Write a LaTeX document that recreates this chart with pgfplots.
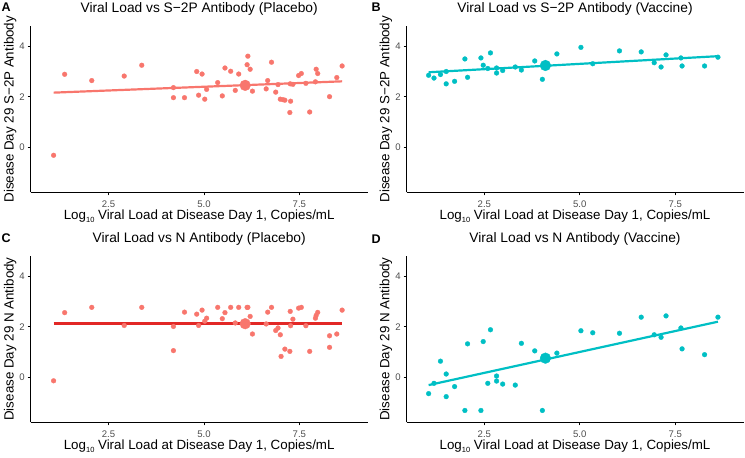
\documentclass[border=0pt]{standalone}
\usepackage{fontspec}
\setmainfont{Liberation Sans}
\usepackage{pgfplots}
\pgfplotsset{compat=1.18}
\definecolor{placebo}{RGB}{248,118,109}
\definecolor{vaccine}{RGB}{0,191,196}
\definecolor{redline}{RGB}{226,40,38}
\definecolor{tickgray}{RGB}{77,77,77}
\newcommand{\xlab}{Log\raisebox{-0.35ex}{\fontsize{7.5}{7.5}\selectfont 10} Viral Load at Disease Day 1, Copies/mL}
\pgfplotsset{
  dots/.style={only marks, mark=*, mark size=2.4bp, color=#1, mark options={solid, draw=#1, fill=#1, line width=0.3bp}},
  bigdot/.style={only marks, mark=*, mark size=5.4bp, color=#1, mark options={solid, draw=#1, fill=#1, line width=0.3bp}},
  fit/.style={no marks, color=#1, line width=2.2bp},
}
\pgfplotsset{panel/.style={
  scale only axis, width=337bp, height=166.5bp,
  xmin=0.46, xmax=9.29, ymin=-1.8, ymax=4.82,
  axis x line*=bottom, axis y line*=left,
  axis line style={-, line width=0.9bp, black},
  xtick={2.5,5,7.5}, xticklabels={2.5,5.0,7.5},
  ytick={0,2,4},
  tick align=outside, major tick length=3bp,
  tick style={black, line width=0.9bp},
  /pgf/number format/assume math mode=true,
  ticklabel style={font=\fontsize{9.6}{9.6}\selectfont, text=tickgray},
  xticklabel style={anchor=base, inner sep=0pt, yshift=-12.5bp},
  yticklabel style={anchor=east, inner sep=0pt, xshift=-2.7bp},
  every axis title/.style={at={(axis description cs:0.5,1)}, anchor=base, yshift=13.5bp, font=\fontsize{13.8}{14}\selectfont},
  every axis x label/.style={at={(axis description cs:0.5,-0.165)}, anchor=base, font=\fontsize{13.4}{14}\selectfont},
  every axis y label/.style={at={(axis description cs:-0.0505,0.5)}, anchor=base, rotate=90, font=\fontsize{13.4}{14}\selectfont},
  xlabel={\xlab},
  clip=false,
}}
\begin{document}
\begin{tikzpicture}
\useasboundingbox (0,0) rectangle (745bp,458bp);
% Panel A
\begin{axis}[panel, at={(30.7bp,265.5bp)}, anchor=south west,
  title={Viral Load vs S−2P Antibody (Placebo)}, ylabel={Disease Day 29 S−2P Antibody}]
\addplot[dots=placebo] table {
x y
1.06 -0.32
1.35 2.90
2.06 2.65
2.91 2.83
3.37 3.26
4.20 2.37
4.20 1.97
4.49 1.97
4.81 3.01
4.95 2.91
4.86 2.07
5.02 1.91
5.07 2.30
5.36 2.57
5.48 2.04
5.55 3.15
5.70 3.02
5.82 2.26
5.91 2.91
6.15 3.62
6.13 3.28
6.21 3.10
6.27 2.23
6.63 2.32
6.67 2.65
6.77 3.38
6.88 2.19
6.94 2.49
7.00 1.91
7.07 1.89
7.12 1.87
7.26 2.52
7.27 1.83
7.25 1.38
7.33 2.50
7.48 2.85
7.55 2.93
7.67 2.54
7.77 1.40
7.92 2.60
7.94 3.10
7.98 2.93
8.29 2.01
8.48 2.77
8.62 3.23
};
\addplot[fit=placebo] coordinates {(1.06,2.17) (8.62,2.62)};
\addplot[bigdot=placebo] coordinates {(6.08,2.46)};
\end{axis}
% Panel B
\begin{axis}[panel, at={(406.5bp,265.5bp)}, anchor=south west,
  title={Viral Load vs S−2P Antibody (Vaccine)}, ylabel={Disease Day 29 S−2P Antibody}]
\addplot[dots=vaccine] table {
x y
1.04 2.86
1.18 2.75
1.35 2.89
1.50 3.01
1.50 2.52
1.72 2.62
1.99 3.51
2.06 2.78
2.41 3.55
2.47 3.26
2.59 3.13
2.66 3.75
2.82 3.15
2.82 2.95
2.98 3.05
3.31 3.19
3.47 3.07
3.82 3.43
4.02 2.70
4.40 3.71
5.03 3.97
5.34 3.32
6.04 3.83
6.61 3.79
6.95 3.36
7.13 3.19
7.26 3.67
7.65 3.55
7.68 3.23
8.27 3.23
8.62 3.58
};
\addplot[fit=vaccine] coordinates {(1.04,2.98) (8.62,3.62)};
\addplot[bigdot=vaccine] coordinates {(4.10,3.25)};
\end{axis}
% Panel C
\begin{axis}[panel, at={(30.7bp,35.7bp)}, anchor=south west,
  title={Viral Load vs N Antibody (Placebo)}, ylabel={Disease Day 29 N Antibody}]
\addplot[dots=placebo] table {
x y
1.06 -0.15
1.35 2.56
2.06 2.77
2.91 2.05
3.37 2.77
4.20 2.01
4.20 1.05
4.49 2.58
4.81 2.50
4.95 2.66
4.86 2.05
5.02 2.22
5.07 2.34
5.36 2.77
5.48 2.32
5.55 2.56
5.70 2.77
5.82 2.15
5.91 2.77
6.15 2.77
6.13 2.77
6.21 2.41
6.27 1.71
6.63 2.11
6.67 2.58
6.77 2.77
6.88 1.85
6.94 1.95
7.00 1.68
7.02 0.82
7.12 1.11
7.26 2.61
7.27 2.04
7.25 1.02
7.33 2.30
7.48 2.74
7.55 2.77
7.67 2.04
7.77 1.02
7.92 2.34
7.94 2.45
7.98 2.57
8.29 1.64
8.29 1.18
8.48 1.71
8.62 2.66
};
\addplot[bigdot=placebo] coordinates {(6.08,2.12)};
\addplot[fit=redline] coordinates {(1.06,2.13) (8.62,2.13)};
\end{axis}
% Panel D
\begin{axis}[panel, at={(406.5bp,35.7bp)}, anchor=south west,
  title={Viral Load vs N Antibody (Vaccine)}, ylabel={Disease Day 29 N Antibody}]
\addplot[dots=vaccine] table {
x y
1.04 -0.66
1.18 -0.25
1.35 0.63
1.50 0.12
1.50 -0.78
1.72 -0.38
1.99 -1.33
2.06 1.32
2.41 -1.33
2.47 1.41
2.59 -0.25
2.66 1.88
2.82 0.04
2.82 -0.16
2.98 -0.28
3.31 -0.32
3.47 1.34
3.82 1.04
4.02 -1.33
4.40 0.95
5.03 1.84
5.34 1.76
6.04 1.74
6.61 2.38
6.95 1.68
7.13 1.58
7.26 2.43
7.65 1.95
7.68 1.12
8.27 0.89
8.62 2.38
};
\addplot[fit=vaccine] coordinates {(1.04,-0.32) (8.62,2.20)};
\addplot[bigdot=vaccine] coordinates {(4.10,0.75)};
\end{axis}
\node[anchor=base west, inner sep=0pt, font=\bfseries\fontsize{12.6}{13}\selectfont] at (1.5bp,446.3bp) {A};
\node[anchor=base west, inner sep=0pt, font=\bfseries\fontsize{12.6}{13}\selectfont] at (371.5bp,446.3bp) {B};
\node[anchor=base west, inner sep=0pt, font=\bfseries\fontsize{12.6}{13}\selectfont] at (1.5bp,215bp) {C};
\node[anchor=base west, inner sep=0pt, font=\bfseries\fontsize{12.6}{13}\selectfont] at (371.5bp,214bp) {D};
\end{tikzpicture}
\end{document}
